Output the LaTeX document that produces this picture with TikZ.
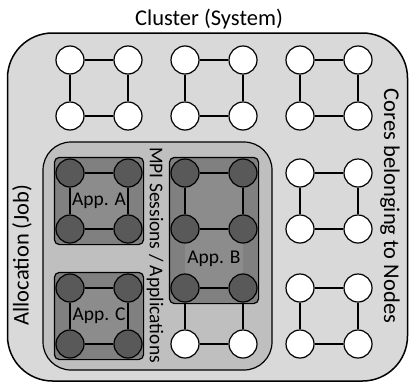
\documentclass[tikz,border=0pt]{standalone}
\usepackage{fontspec}
\setmainfont{Carlito}
\usetikzlibrary{fit}

\definecolor{clusterbg}{gray}{0.85}
\definecolor{allocbg}{gray}{0.75}
\definecolor{appbg}{gray}{0.5}
\definecolor{appin}{gray}{0.55}
\definecolor{busycore}{gray}{0.35}

\pgfdeclarelayer{frame}
\pgfdeclarelayer{jobs}
\pgfsetlayers{frame,jobs,main}

% one compute node: four cores wired as a ring,
% top pair (#4) and bottom pair (#5) get their own style
\newcommand{\hostnode}[5]{%
  \node[#4] (#1-1) at (#2,#3) {};
  \node[#4] (#1-2) at (#2+58,#3) {};
  \node[#5] (#1-3) at (#2,#3+56) {};
  \node[#5] (#1-4) at (#2+58,#3+56) {};
  \draw[link] (#1-1) -- (#1-2) (#1-3) -- (#1-4) (#1-1) -- (#1-3) (#1-2) -- (#1-4);
}

\begin{document}
\begin{tikzpicture}[x=1pt, y=-1pt,
  core/.style={circle, draw, line width=1.2pt, fill=white, minimum size=28pt, inner sep=0pt},
  busy/.style={core, fill=busycore},
  link/.style={line width=1.2pt},
  app/.style={draw, line width=1.2pt, rounded corners=5pt, fill=appbg, inner sep=1pt},
  big/.style={font=\fontsize{22.5}{27}\selectfont},
  small/.style={font=\fontsize{19.5}{23}\selectfont}]

  \useasboundingbox (0,0) rectangle (409,383);

  % Free nodes
  \hostnode{n1}{70}{60}{core}{core}
  \hostnode{n2}{185}{60}{core}{core}
  \hostnode{n3}{300}{60}{core}{core}
  \hostnode{n4}{300}{173}{core}{core}
  \hostnode{n5}{300}{288}{core}{core}

  % Nodes handed to the job
  \hostnode{n6}{70}{173}{busy}{busy}
  \hostnode{n7}{185}{173}{busy}{busy}
  \hostnode{n8}{70}{288}{busy}{busy}
  \hostnode{n9}{185}{288}{busy}{core}

  % Applications
  \begin{pgfonlayer}{jobs}
    \node[app, fit=(n6-1)(n6-4)] (appA) {};
    \node[app, fit=(n7-1)(n9-2)] (appB) {};
    \node[app, fit=(n8-1)(n8-4)] (appC) {};
    \fill[appin] (n6-1.center) rectangle (n6-4.center);
    \fill[appin] (n7-1.center) rectangle (n9-2.center);
    \fill[appin] (n8-1.center) rectangle (n8-4.center);
  \end{pgfonlayer}
  \path (n6-1) -- (n6-4) node[midway, small] (lblA) {App. A};
  \path (n7-3) -- (n9-2) node[midway, small] (lblB) {App. B};
  \path (n8-1) -- (n8-4) node[midway, small] (lblC) {App. C};

  % Cluster and allocation frames
  \begin{pgfonlayer}{frame}
    \draw[line width=1.5pt, rounded corners=45pt, fill=clusterbg] (7.5,33) rectangle (407.5,381);
    \draw[line width=1.2pt, rounded corners=28pt, fill=allocbg] (43,142) rectangle (272,370);
  \end{pgfonlayer}

  % Labels
  \node[big] (title) at (209,19) {Cluster (System)};
  \node[big, rotate=-90] (corelbl) at (390,206) {Cores belonging to Nodes};
  \node[small, rotate=-90] (mpilbl) at (155,255) {MPI Sessions / Applications};
  \node[big, rotate=90] (alloclbl) at (22,255) {Allocation (Job)};
\end{tikzpicture}
\end{document}
